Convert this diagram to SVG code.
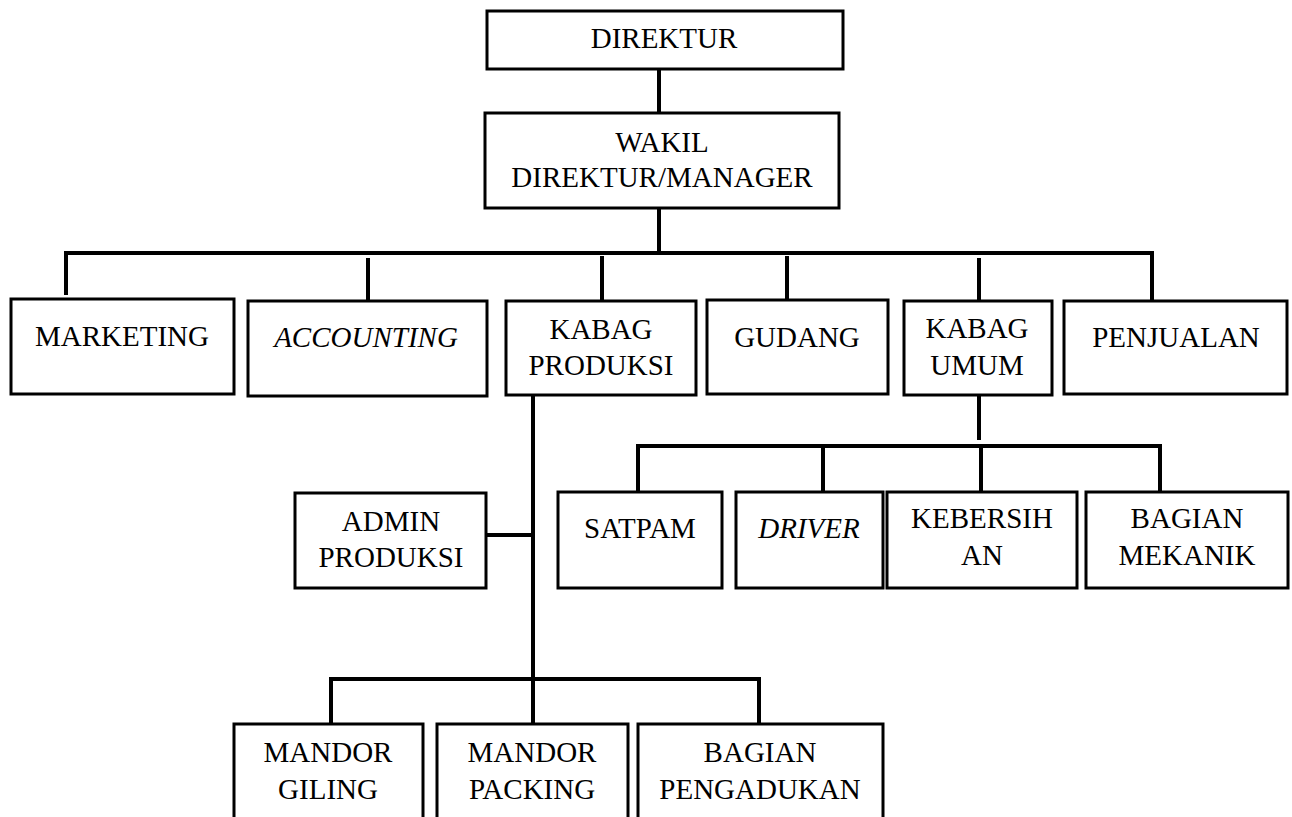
<svg xmlns="http://www.w3.org/2000/svg" width="1292" height="817" viewBox="0 0 1292 817">
<style>
.box{fill:#fff;stroke:#000;stroke-width:3}
.t{font-family:"Liberation Serif","Times New Roman",serif;font-size:29px;fill:#000;text-anchor:middle}
.i{font-style:italic}
.c{stroke:#000;stroke-width:4;fill:none;stroke-linecap:butt}
</style>
<rect width="1292" height="817" fill="#fff"/>
<g id="connectors">
<path class="c" d="M659 69V113M659 208V253M64 253H1154M66 253V295M368 258V300M602 256V300M787 256V300M979 258V300M1152 253V300"/>
<path class="c" d="M533 395V681M487 535H533M329 679H761M331 679V724M533 679V724M759 679V724"/>
<path class="c" d="M979 395V440M636 446H1162M638 446V491M823 446V491M981 446V491M1160 446V491"/>
</g>
<g id="n-direktur"><rect class="box" x="487" y="11" width="356" height="58"/><text class="t" x="664" y="48">DIREKTUR</text></g>
<g id="n-wakil"><rect class="box" x="485" y="113" width="354" height="95"/><text class="t" x="662" y="152">WAKIL</text><text class="t" x="662" y="187">DIREKTUR/MANAGER</text></g>
<g id="n-marketing"><rect class="box" x="11" y="299" width="223" height="95"/><text class="t" x="122" y="346">MARKETING</text></g>
<g id="n-accounting"><rect class="box" x="248" y="301" width="239" height="95"/><text class="t i" x="366" y="347">ACCOUNTING</text></g>
<g id="n-kabag-produksi"><rect class="box" x="506" y="301" width="190" height="94"/><text class="t" x="601" y="339">KABAG</text><text class="t" x="601" y="375">PRODUKSI</text></g>
<g id="n-gudang"><rect class="box" x="707" y="300" width="181" height="94"/><text class="t" x="797" y="347">GUDANG</text></g>
<g id="n-kabag-umum"><rect class="box" x="904" y="301" width="148" height="94"/><text class="t" x="977" y="338">KABAG</text><text class="t" x="977" y="375">UMUM</text></g>
<g id="n-penjualan"><rect class="box" x="1064" y="301" width="223" height="93"/><text class="t" x="1176" y="347">PENJUALAN</text></g>
<g id="n-admin"><rect class="box" x="295" y="493" width="191" height="95"/><text class="t" x="391" y="531">ADMIN</text><text class="t" x="391" y="567">PRODUKSI</text></g>
<g id="n-satpam"><rect class="box" x="558" y="492" width="164" height="96"/><text class="t" x="640" y="538">SATPAM</text></g>
<g id="n-driver"><rect class="box" x="736" y="492" width="147" height="96"/><text class="t i" x="809" y="538">DRIVER</text></g>
<g id="n-kebersihan"><rect class="box" x="887" y="492" width="190" height="96"/><text class="t" x="982" y="528">KEBERSIH</text><text class="t" x="982" y="565">AN</text></g>
<g id="n-mekanik"><rect class="box" x="1086" y="492" width="202" height="96"/><text class="t" x="1187" y="528">BAGIAN</text><text class="t" x="1187" y="565">MEKANIK</text></g>
<g id="n-giling"><rect class="box" x="234" y="724" width="189" height="110"/><text class="t" x="328" y="762">MANDOR</text><text class="t" x="328" y="799">GILING</text></g>
<g id="n-packing"><rect class="box" x="437" y="724" width="191" height="110"/><text class="t" x="532" y="762">MANDOR</text><text class="t" x="532" y="799">PACKING</text></g>
<g id="n-pengadukan"><rect class="box" x="638" y="724" width="245" height="110"/><text class="t" x="760" y="762">BAGIAN</text><text class="t" x="760" y="799">PENGADUKAN</text></g>
</svg>
